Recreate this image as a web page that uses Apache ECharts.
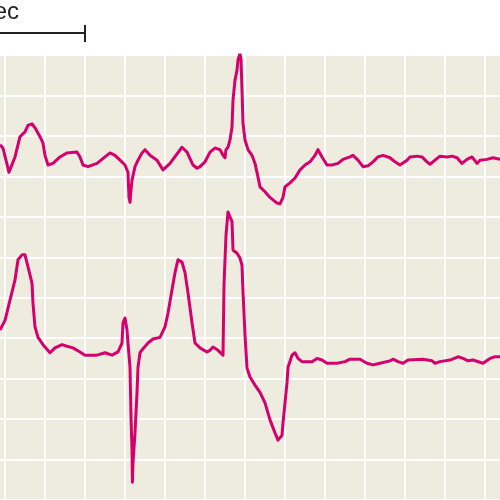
<!DOCTYPE html>
<html>
<head>
<meta charset="utf-8">
<script src="https://cdn.jsdelivr.net/npm/echarts@6/dist/echarts.min.js"></script>
<style>
  html, body { margin: 0; padding: 0; background: #fff; }
  #ecg { width: 500px; height: 500px; }
</style>
</head>
<body>
<div id="ecg"></div>
<script>
// upper lead: time in ms, amplitude in mV (one grid box = 200 ms x 0.5 mV)
var topTime = [-25, -10, 20, 50, 75, 100, 115, 135, 150, 175, 190, 200, 215, 240, 275, 310, 360, 375, 390, 415,
  460, 500, 525, 550, 575, 600, 615, 617, 620, 625, 630, 635, 650, 665, 685, 700, 725, 760, 790, 825,
  885, 910, 940, 960, 975, 1000, 1025, 1050, 1075, 1090, 1100, 1105, 1115, 1125, 1135, 1140, 1150, 1160, 1165, 1175,
  1180, 1185, 1190, 1200, 1215, 1235, 1250, 1265, 1275, 1300, 1325, 1360, 1375, 1390, 1400, 1425, 1450, 1475, 1500, 1525,
  1550, 1565, 1585, 1610, 1635, 1665, 1690, 1725, 1740, 1765, 1790, 1815, 1840, 1865, 1890, 1925, 1950, 1975, 2010, 2025,
  2060, 2085, 2110, 2125, 2150, 2175, 2210, 2235, 2260, 2285, 2310, 2335, 2360, 2375, 2410, 2440, 2475];
var topMv = [4.39, 4.35, 4.05, 4.24, 4.49, 4.55, 4.63, 4.65, 4.60, 4.49, 4.41, 4.26, 4.14, 4.16, 4.24, 4.29, 4.30, 4.24, 4.14, 4.12,
  4.16, 4.24, 4.29, 4.26, 4.20, 4.14, 4.05, 3.92, 3.74, 3.68, 3.83, 3.95, 4.12, 4.20, 4.29, 4.33, 4.26, 4.20, 4.08, 4.16,
  4.36, 4.30, 4.14, 4.10, 4.12, 4.18, 4.30, 4.35, 4.33, 4.26, 4.23, 4.33, 4.36, 4.45, 4.61, 4.94, 5.19, 5.31, 5.44, 5.52,
  5.44, 5.07, 4.66, 4.45, 4.33, 4.26, 4.16, 3.99, 3.87, 3.81, 3.74, 3.67, 3.66, 3.74, 3.87, 3.92, 3.98, 4.08, 4.14, 4.18,
  4.26, 4.33, 4.24, 4.14, 4.14, 4.16, 4.21, 4.24, 4.26, 4.20, 4.12, 4.13, 4.18, 4.24, 4.26, 4.23, 4.18, 4.14, 4.20, 4.24,
  4.25, 4.24, 4.18, 4.15, 4.20, 4.25, 4.24, 4.25, 4.23, 4.16, 4.21, 4.24, 4.16, 4.20, 4.21, 4.23, 4.21];

// lower lead
var bottomTime = [-25, 0, 25, 50, 65, 85, 100, 115, 135, 140, 150, 165, 190, 225, 250, 285, 310, 340, 375, 400,
  460, 500, 535, 565, 585, 590, 600, 610, 615, 625, 630, 635, 637, 640, 650, 660, 665, 675, 690, 715,
  740, 775, 800, 815, 835, 850, 865, 885, 900, 915, 935, 950, 975, 1010, 1025, 1040, 1065, 1090, 1095, 1105,
  1115, 1125, 1135, 1140, 1160, 1175, 1185, 1190, 1200, 1210, 1225, 1250, 1275, 1300, 1325, 1350, 1365, 1385, 1390, 1400,
  1410, 1415, 1435, 1450, 1465, 1485, 1535, 1560, 1585, 1610, 1660, 1700, 1725, 1775, 1810, 1840, 1875, 1925, 1940, 1965,
  1990, 2015, 2090, 2135, 2150, 2175, 2225, 2265, 2290, 2315, 2340, 2390, 2425, 2450, 2475];
var bottomMv = [2.10, 2.22, 2.47, 2.72, 2.97, 3.03, 3.03, 2.88, 2.68, 2.43, 2.14, 2.01, 1.92, 1.82, 1.88, 1.92, 1.90, 1.88, 1.83, 1.79,
  1.79, 1.82, 1.79, 1.83, 1.94, 2.19, 2.25, 2.10, 1.94, 1.64, 1.03, 0.62, 0.22, 0.46, 0.83, 1.32, 1.64, 1.82, 1.87, 1.94,
  1.99, 2.01, 2.14, 2.31, 2.60, 2.81, 2.97, 2.94, 2.81, 2.56, 2.19, 1.94, 1.88, 1.83, 1.85, 1.89, 1.85, 1.79, 2.66, 3.27,
  3.56, 3.58, 3.44, 3.09, 3.05, 2.99, 2.90, 2.57, 2.04, 1.63, 1.52, 1.42, 1.33, 1.20, 0.99, 0.83, 0.74, 0.80, 0.95, 1.20,
  1.45, 1.64, 1.79, 1.82, 1.75, 1.71, 1.71, 1.75, 1.73, 1.69, 1.69, 1.71, 1.74, 1.74, 1.69, 1.67, 1.69, 1.72, 1.74, 1.71,
  1.69, 1.73, 1.74, 1.72, 1.69, 1.71, 1.73, 1.77, 1.75, 1.72, 1.73, 1.69, 1.75, 1.77, 1.77];

// scale bar: one second, ending on the 400 ms grid line
var scaleBarMs = [-600, 400];
var scaleLabel = '1 sec';

var traceColor = '#d5006d';

function pairs(xs, ys) {
  return xs.map(function (x, i) { return [x, ys[i]]; });
}

var myChart = echarts.init(document.getElementById('ecg'));
var option = {
  animation: false,
  backgroundColor: '#fff',
  grid: {
    left: -35,
    right: -25,
    top: 55,
    bottom: -40.45,
    outerBoundsMode: 'none',
    containLabel: false,
    show: true,
    backgroundColor: '#eeebdf',
    borderWidth: 0
  },
  xAxis: {
    type: 'value',
    min: -200,
    max: 2600,
    interval: 200,
    axisLine: { show: false },
    axisTick: { show: false },
    axisLabel: { show: false },
    splitLine: { show: true, lineStyle: { color: '#ffffff', width: 2 } }
  },
  yAxis: {
    type: 'value',
    min: -0.5,
    max: 5.5,
    interval: 0.5,
    axisLine: { show: false },
    axisTick: { show: false },
    axisLabel: { show: false },
    splitLine: { show: true, lineStyle: { color: '#ffffff', width: 2 } }
  },
  series: [
    {
      name: 'upper',
      type: 'line',
      data: pairs(topTime, topMv),
      showSymbol: false,
      lineStyle: { color: traceColor, width: 3, join: 'round' }
    },
    {
      name: 'lower',
      type: 'line',
      data: pairs(bottomTime, bottomMv),
      showSymbol: false,
      lineStyle: { color: traceColor, width: 3, join: 'round' }
    }
  ]
};
myChart.setOption(option);

// scale bar drawn from the x axis so it really spans one second
var x0 = myChart.convertToPixel({ xAxisIndex: 0 }, scaleBarMs[0]);
var x1 = myChart.convertToPixel({ xAxisIndex: 0 }, scaleBarMs[1]);
myChart.setOption({
  graphic: [
    {
      type: 'line',
      shape: { x1: x0, y1: 33, x2: x1, y2: 33 },
      style: { stroke: '#222', lineWidth: 2 }
    },
    {
      type: 'line',
      shape: { x1: x1, y1: 25, x2: x1, y2: 42 },
      style: { stroke: '#222', lineWidth: 2 }
    },
    {
      type: 'text',
      x: 19,
      y: 0,
      style: {
        text: scaleLabel,
        font: '24px "Liberation Sans", Arial, sans-serif',
        fill: '#222',
        align: 'right',
        verticalAlign: 'top'
      }
    }
  ]
});
</script>
</body>
</html>
